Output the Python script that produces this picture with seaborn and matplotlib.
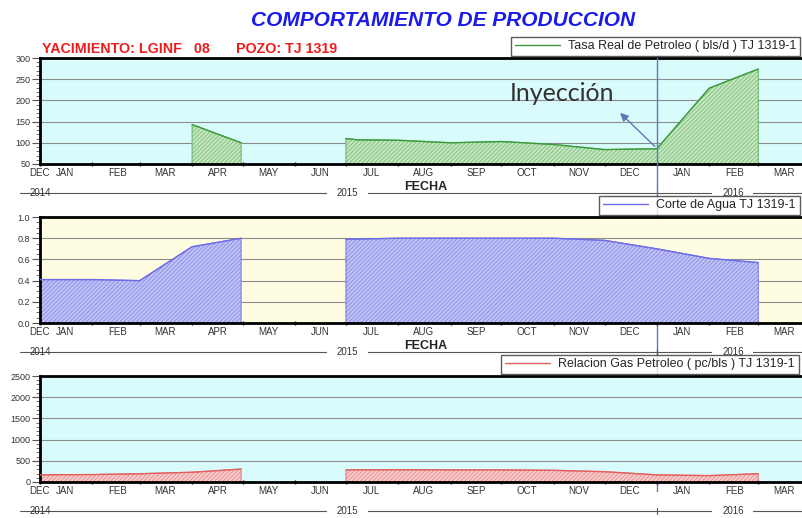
import numpy as np
import pandas as pd
import matplotlib
matplotlib.use('Agg')
import matplotlib.pyplot as plt
import matplotlib.dates as mdates
import matplotlib.ticker as mticker
import seaborn as sns

# Data (NaN = gap in the record)
oil_dates = ['2015-04-01', '2015-04-30', '2015-06-01', '2015-07-01', '2015-07-08', '2015-08-01',
             '2015-09-01', '2015-10-01', '2015-11-01', '2015-12-01', '2016-01-01', '2016-02-01',
             '2016-03-01']
oil_rate = [143, 100, np.nan, 110, 107, 106, 100, 103, 96, 84, 86, 229, 274]

wc_dates = ['2015-01-01', '2015-02-01', '2015-03-01', '2015-04-01', '2015-04-30', '2015-06-01',
            '2015-07-01', '2015-08-01', '2015-09-01', '2015-10-01', '2015-11-01', '2015-12-01',
            '2016-01-01', '2016-02-01', '2016-03-01']
water_cut = [0.41, 0.41, 0.40, 0.72, 0.80, np.nan, 0.79, 0.80, 0.80, 0.80, 0.80, 0.78, 0.70, 0.61, 0.57]

gor_dates = wc_dates
gor = [170, 175, 195, 230, 305, np.nan, 285, 290, 285, 285, 275, 243, 168, 150, 195]

month_labels = ['DEC', 'JAN', 'FEB', 'MAR', 'APR', 'MAY', 'JUN', 'JUL', 'AUG', 'SEP', 'OCT',
                'NOV', 'DEC', 'JAN', 'FEB', 'MAR']
year_labels = ['2014', '2015', '2016']
year_label_dates = ['2015-01-01', '2015-07-02', '2016-02-15']
injection_date = '2016-01-01'

sns.set_style('white')
plt.rcParams['font.family'] = ['Liberation Sans', 'DejaVu Sans']
plt.rcParams['hatch.linewidth'] = 0.5

x_start, x_end = pd.Timestamp('2015-01-01'), pd.Timestamp('2016-04-01')

fig = plt.figure(figsize=(8.03, 5.18), dpi=100)


def draw_panel(bottom, dates, values, base, ylim, major, minor, fmt, line_c, hatch_c, face_c, bg,
               label, legend_x, fecha):
    ax = fig.add_axes([0.0498, bottom, 0.9598, 0.2046])
    df = pd.DataFrame({'fecha': pd.to_datetime(dates), 'valor': values})
    df['seg'] = df['valor'].isna().cumsum()
    ax.fill_between(df['fecha'], base, df['valor'], facecolor=face_c, edgecolor=hatch_c,
                    hatch='////////', linewidth=0.8, zorder=2)
    sns.lineplot(data=df.dropna(), x='fecha', y='valor', units='seg', estimator=None,
                 color=line_c, linewidth=1, ax=ax, zorder=3)
    ax.set_facecolor(bg)
    ax.set_xlim(x_start, x_end)
    ax.set_ylim(*ylim)
    ax.set_axisbelow(True)
    ax.yaxis.grid(True, color='#8c8c8c', linewidth=0.8)
    ax.xaxis.grid(False)
    for s in ax.spines.values():
        s.set_linewidth(2)
        s.set_color('black')
    ax.set_xlabel('')
    ax.set_ylabel('')

    # y axis
    ax.yaxis.set_major_locator(mticker.MultipleLocator(major))
    ax.yaxis.set_minor_locator(mticker.MultipleLocator(minor))
    ax.yaxis.set_major_formatter(mticker.FormatStrFormatter(fmt))
    ax.tick_params(axis='y', which='major', length=6, width=0.8, color='#555555',
                   labelsize=6.5, labelcolor='#333333', pad=1, left=True)
    ax.tick_params(axis='y', which='minor', length=3, width=0.6, color='#555555', left=True)

    # x axis: month boundaries + labels in the middle of each month
    starts = pd.date_range('2015-01-01', '2016-03-01', freq='MS')
    label_pos = [x_start] + list(starts + pd.Timedelta(days=15))
    ax.xaxis.remove_overlapping_locs = False
    ax.xaxis.set_major_locator(mdates.MonthLocator())
    ax.xaxis.set_major_formatter(mticker.NullFormatter())
    ax.xaxis.set_minor_locator(mticker.FixedLocator(mdates.date2num(label_pos)))
    ax.xaxis.set_minor_formatter(mticker.FixedFormatter(month_labels))
    ax.tick_params(axis='x', which='major', length=3, width=1, color='black', direction='inout',
                   bottom=True)
    ax.tick_params(axis='x', which='minor', length=0, labelsize=7, labelcolor='#333333', pad=3,
                   bottom=True)

    # year row
    yr_y = -0.274
    ax.plot([-0.026, 1.0], [yr_y, yr_y], transform=ax.transAxes, color='#555555', lw=0.8,
            clip_on=False)
    trans = matplotlib.transforms.blended_transform_factory(ax.transData, ax.transAxes)
    for i, (lab, d) in enumerate(zip(year_labels, year_label_dates)):
        kw = {} if i == 0 else dict(bbox=dict(facecolor='white', edgecolor='none', pad=7))
        ax.text(mdates.date2num(pd.Timestamp(d)), yr_y, lab, transform=trans, ha='center',
                va='center', fontsize=7, color='#333333', **kw)
    jd = mdates.date2num(pd.Timestamp(injection_date))
    ax.plot([jd, jd], [yr_y - 0.03, yr_y + 0.03], transform=trans, color='#555555', lw=0.8,
            clip_on=False)
    if fecha:
        ax.text(0.5, -0.217, 'FECHA', transform=ax.transAxes, ha='center', va='center',
                fontsize=9, fontweight='bold', color='#222222')

    leg = ax.legend(handles=[ax.lines[0]], labels=[label], loc='lower left',
                    bbox_to_anchor=(legend_x, 1.0), bbox_transform=ax.transAxes,
                    borderaxespad=0.15, frameon=True, fancybox=False, handlelength=3.6,
                    fontsize=9, borderpad=0.3, handletextpad=0.7)
    leg.get_frame().set_edgecolor('#333333')
    leg.get_frame().set_linewidth(1)
    return ax


ax1 = draw_panel(0.6834, oil_dates, oil_rate, 50, (50, 300), 50, 10, '%d', '#3a9a3a', '#6fb86f',
                 '#c4e6c0', '#dafbfb', 'Tasa Real de Petroleo ( bls/d ) TJ 1319-1', 0.6085, True)
ax2 = draw_panel(0.3764, wc_dates, water_cut, 0, (0, 1.0), 0.2, 0.05, '%.1f', '#6c6ce6',
                 '#7d80e8', '#c0c2f4', '#fefde2', 'Corte de Agua TJ 1319-1', 0.7227, True)
ax3 = draw_panel(0.0695, gor_dates, gor, 0, (0, 2500), 500, 100, '%d', '#e06060', '#e68080',
                 '#f8cccc', '#dafbfb', 'Relacion Gas Petroleo ( pc/bls ) TJ 1319-1', 0.5956, False)

# injection marker across the three panels
jd = mdates.date2num(pd.Timestamp(injection_date))
ax1.axvline(jd, ymin=-3.09, ymax=1.0, color='#5a7ab8', lw=1, clip_on=False, zorder=10)
ax1.annotate('', xy=(mdates.date2num(pd.Timestamp('2015-12-09')), 175),
             xytext=(jd, 87), arrowprops=dict(arrowstyle='-|>', color='#5a7ab8', lw=1,
                                              mutation_scale=12))
ax1.text(mdates.date2num(pd.Timestamp('2015-10-06')), 217, 'Inyección', fontsize=18,
         family=['Lato', 'DejaVu Sans'], color='#333333', va='center', ha='left')

fig.text(443 / 803, 1 - 21 / 518, 'COMPORTAMIENTO DE PRODUCCION', ha='center', va='center',
         fontsize=15, fontweight='bold', fontstyle='italic', color='#1a1aee')
fig.text(42 / 803, 1 - 49 / 518, 'YACIMIENTO: LGINF   08', ha='left', va='center',
         fontsize=10.3, fontweight='bold', color='#ee1c1c')
fig.text(236 / 803, 1 - 49 / 518, 'POZO: TJ 1319', ha='left', va='center',
         fontsize=10.3, fontweight='bold', color='#ee1c1c')

fig.savefig('out.png', dpi=100)
